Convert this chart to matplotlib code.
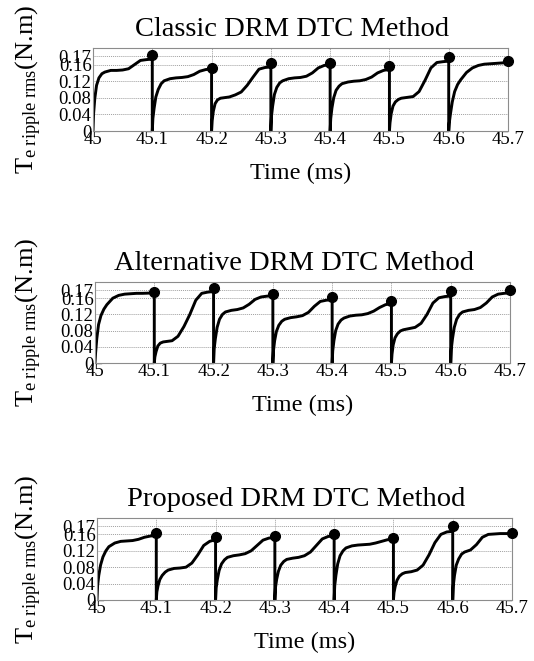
import numpy as np
import matplotlib
matplotlib.use("Agg")
import matplotlib.pyplot as plt

plt.rcParams["font.family"] = ["Liberation Serif", "DejaVu Serif"]
plt.rcParams["mathtext.fontset"] = "custom"
plt.rcParams["mathtext.rm"] = "Liberation Serif"
plt.rcParams["mathtext.it"] = "Liberation Serif:italic"

# Data ------------------------------------------------------------------
titles = ["Classic DRM DTC Method",
          "Alternative DRM DTC Method",
          "Proposed DRM DTC Method"]

seg_starts = [45.0, 45.1, 45.2, 45.3, 45.4, 45.5, 45.6]
# sample positions inside each 0.1 ms segment (fraction of the segment)
t_frac = [0, .01, .03, .06, .1, .15, .2, .3, .4, .5, .6, .7, .8, .9, .97, 1.0]

# T_e ripple rms [N.m], one list per segment; last value is the dot
classic = [
    [0, .042, .078, .110, .128, .138, .142, .146, .146, .147, .150, .160, .170, .172, .173, .182],
    [0, .030, .054, .082, .100, .114, .121, .126, .128, .129, .131, .136, .144, .148, .149, .153],
    [0, .025, .048, .066, .075, .079, .080, .082, .087, .094, .110, .130, .149, .153, .154, .165],
    [0, .035, .060, .088, .105, .116, .121, .126, .128, .129, .132, .140, .152, .158, .159, .165],
    [0, .030, .055, .080, .098, .108, .114, .118, .120, .121, .124, .130, .140, .146, .148, .156],
    [0, .020, .042, .060, .070, .076, .079, .081, .083, .095, .122, .152, .165, .167, .168, .179],
    [0, .020, .042, .070, .095, .112, .123, .141, .152, .158, .161, .162, .163, .164, .165, .168],
]
alternative = [
    [0, .025, .060, .095, .117, .133, .144, .160, .167, .170, .171, .172, .172, .1725, .173, .175],
    [0, .015, .028, .042, .049, .052, .053, .055, .066, .090, .120, .155, .172, .175, .176, .185],
    [0, .035, .060, .088, .108, .120, .126, .130, .132, .136, .145, .157, .163, .165, .166, .170],
    [0, .030, .055, .078, .093, .103, .108, .112, .114, .117, .125, .140, .152, .155, .156, .163],
    [0, .030, .055, .080, .096, .106, .111, .116, .118, .119, .122, .128, .137, .144, .146, .154],
    [0, .022, .045, .062, .072, .079, .082, .085, .088, .098, .120, .148, .161, .164, .165, .177],
    [0, .035, .060, .088, .108, .120, .126, .130, .132, .137, .148, .163, .170, .172, .173, .181],
]
proposed = [
    [0, .035, .060, .085, .105, .120, .130, .139, .143, .144, .145, .148, .153, .156, .157, .164],
    [0, .020, .035, .050, .060, .068, .073, .077, .078, .080, .090, .110, .133, .143, .146, .154],
    [0, .030, .050, .072, .088, .098, .104, .108, .110, .113, .120, .133, .146, .151, .152, .156],
    [0, .030, .050, .070, .085, .094, .099, .102, .104, .108, .117, .133, .149, .155, .156, .162],
    [0, .035, .060, .088, .108, .120, .127, .132, .134, .135, .136, .139, .143, .147, .148, .151],
    [0, .018, .033, .048, .058, .064, .067, .069, .073, .085, .110, .140, .160, .166, .167, .181],
    [0, .035, .060, .085, .100, .112, .117, .122, .135, .153, .160, .161, .162, .162, .162, .164],
]
series = [classic, alternative, proposed]

x_ticks = [45.0, 45.1, 45.2, 45.3, 45.4, 45.5, 45.6, 45.7]
x_ticklabels = ["45", "45.1", "45.2", "45.3", "45.4", "45.5", "45.6", "45.7"]
y_ticks = [0, 0.04, 0.08, 0.12, 0.16, 0.18]
y_ticklabels = ["0", "0.04", "0.08", "0.12", "0.16", "0.17"]

# Layout in pixels (left, right, top, bottom) ----------------------------
W, H = 534, 661
boxes = [(93, 508, 48, 131), (95, 510, 282, 363), (97, 512, 518, 600)]

fig = plt.figure(figsize=(W / 100, H / 100), dpi=100)

for box, title, segs in zip(boxes, titles, series):
    l, r, t, b = box
    ax = fig.add_axes([l / W, 1 - b / H, (r - l) / W, (b - t) / H])

    xs, ys = [], []
    for start, vals in zip(seg_starts, segs):
        xs.extend(start + 0.1 * np.array(t_frac))
        ys.extend(vals)
    ax.plot(xs, ys, color="black", lw=2.1, solid_joinstyle="round")
    ends_x = [s + 0.1 for s in seg_starts]
    ends_y = [v[-1] for v in segs]
    ax.plot(ends_x, ends_y, "o", color="black", ms=7, clip_on=False,
            zorder=5)

    ax.set_xlim(45.0, 45.7)
    ax.set_ylim(0, 0.2)
    ax.set_xticks(x_ticks)
    ax.set_xticklabels(x_ticklabels)
    ax.set_yticks(y_ticks)
    ax.set_yticklabels(y_ticklabels)
    ax.tick_params(length=0, labelsize=13.5)
    ax.tick_params(axis="x", pad=0)
    ax.tick_params(axis="y", pad=1)
    ax.grid(True, color="#a0a0a0", ls=(0, (1, 1)), lw=0.7)
    for sp in ax.spines.values():
        sp.set_color("#8c8c8c")
        sp.set_linewidth(0.8)

    ax.set_title(title, fontsize=20.5, x=0.48, pad=9)
    ax.set_xlabel("Time (ms)", fontsize=17.5, labelpad=11)
    ax.set_ylabel(r"T$_{\mathrm{e\ ripple\ rms}}$(N.m)", fontsize=19)
    ax.yaxis.set_label_coords((44 - l) / (r - l), 0.5)

fig.savefig("out.png", dpi=100)
